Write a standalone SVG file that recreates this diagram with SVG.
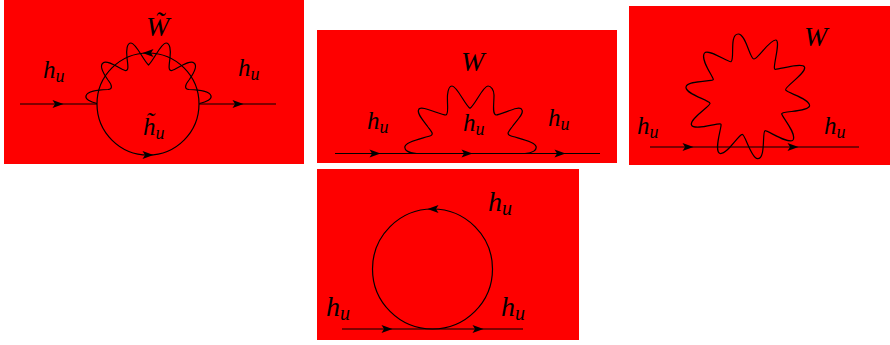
<svg xmlns="http://www.w3.org/2000/svg" width="890" height="345" viewBox="0 0 890 345">
<style>
.bg{fill:#fe0000}
.l{fill:none;stroke:#000;stroke-width:1.2}
.t{font-family:"Liberation Serif",serif;font-style:italic;font-size:25px;fill:#000}
.b{font-size:28px}
.w{font-size:28px}
.s{font-size:18px}
.b .s{font-size:20px}
.a{fill:#000}
</style>
<defs>
<path id="ah" d="M5.5,0 L-5.5,-4 L-3,0 L-5.5,4Z"/>
</defs>
<rect width="890" height="345" fill="#fff"/>
<g id="panel-a">
<rect class="bg" x="4" y="0" width="300" height="164"/>
<g id="connectors-a">
<path class="l" d="M20,104H97M199,104H276"/>
<circle class="l" cx="148" cy="104" r="51"/>
<path class="l" d="M97,103.5 C90,102 85,99 86,96 C87,91 97,90 108,89.5 C113,89 112,85 108,80 C103,73 99,66 103,63 C107,59 120,69 125,70.5 C129,71 128,66 127,58 C126,50 127,43 131,43 C136,43 143,60 148.5,65 C154,60 161,43 166,43 C170,43 171,50 170,58 C169,66 168,71 172,70.5 C177,69 190,59 194,63 C198,66 194,73 189,80 C185,85 184,89 189,89.5 C200,90 210,91 211,96 C212,99 207,102 199.5,103.5"/>
<use class="a" href="#ah" x="58" y="104"/>
<use class="a" href="#ah" x="238" y="104"/>
<use class="a" href="#ah" x="148" y="155"/>
<use class="a" href="#ah" transform="translate(148,53) rotate(180)"/>
</g>
<text class="t" x="43" y="78">h<tspan class="s" dy="4">u</tspan></text>
<text class="t" x="238" y="76">h<tspan class="s" dy="4">u</tspan></text>
<text class="t w" x="146" y="36">W̃</text>
<text class="t" x="143" y="135">h̃<tspan class="s" dy="4">u</tspan></text>
</g>
<g id="panel-b">
<rect class="bg" x="317" y="30" width="300" height="133"/>
<g id="connectors-b">
<path class="l" d="M335,153.5H600"/>
<path class="l" d="M416.7,153.5 C408,153 404,150 405,146.5 C406,141 425,138 431,135.5 C434,134 431,131 428,127 C423,120 417,114 418.5,110 C420,104 440,115 446,115 C449,114 447,105 447.5,95 C448,90 449,86 452,86 C457,86 465,105 470,108.3 C475,105 483,86 488,86 C491,86 494,90 494,95 C494,105 492,114 496,115 C502,115 520,104 522,110 C524,114 517,120 512,127 C509,131 506,134 510,135.5 C516,138 535,141 536,146.5 C537,150 533,153 525,153.5"/>
<use class="a" href="#ah" x="375" y="153.5"/>
<use class="a" href="#ah" x="467" y="153.5"/>
<use class="a" href="#ah" x="560" y="153.5"/>
</g>
<text class="t" x="367" y="129">h<tspan class="s" dy="4">u</tspan></text>
<text class="t" x="463" y="131">h<tspan class="s" dy="4">u</tspan></text>
<text class="t" x="548" y="126">h<tspan class="s" dy="4">u</tspan></text>
<text class="t w" x="461" y="71">W</text>
</g>
<g id="panel-c">
<rect class="bg" x="629" y="6" width="261" height="159"/>
<g id="connectors-c">
<path class="l" d="M650,147H859"/>
<path class="l" d="M731,61.7 C735,60 729,34 738.3,34 C746,34 750,60 754,59 C758,59 770,39 776,40 C781,41 772,69 775,69.3 C778,70 802,62 804.5,67 C807,73 784,87 785.7,90 C787,93 811,99 809.5,106 C808,112 781,111 781.7,114 C783,118 797,134 793,140 C789,145 767,130 765,130.7 C762,132 766,159 757.5,158.7 C751,158 745,134 742.3,134.3 C738,135 727,155 720,153.5 C713,151 723,124 720.7,124 C717,123 694,131 691.5,125 C689,119 711,106 710,103.3 C709,100 685,94 686,87 C687,80 714,82 713.3,79.3 C712,75 700,59 704.5,53 C708,48 729,63 731,61.7Z"/>
<use class="a" href="#ah" x="688" y="147"/>
<use class="a" href="#ah" x="793" y="147"/>
</g>
<text class="t" x="637" y="134">h<tspan class="s" dy="4">u</tspan></text>
<text class="t" x="824" y="134">h<tspan class="s" dy="4">u</tspan></text>
<text class="t w" x="804" y="46">W</text>
</g>
<g id="panel-d">
<rect class="bg" x="317" y="169" width="262" height="171"/>
<g id="connectors-d">
<path class="l" d="M342,329H523"/>
<circle class="l" cx="432.5" cy="269" r="60"/>
<use class="a" href="#ah" x="387" y="329"/>
<use class="a" href="#ah" x="478" y="329"/>
<use class="a" href="#ah" transform="translate(433,209) rotate(180)"/>
</g>
<text class="t b" x="488" y="211">h<tspan class="s" dy="4">u</tspan></text>
<text class="t b" x="326" y="316">h<tspan class="s" dy="4">u</tspan></text>
<text class="t b" x="501" y="316">h<tspan class="s" dy="4">u</tspan></text>
</g>
</svg>
